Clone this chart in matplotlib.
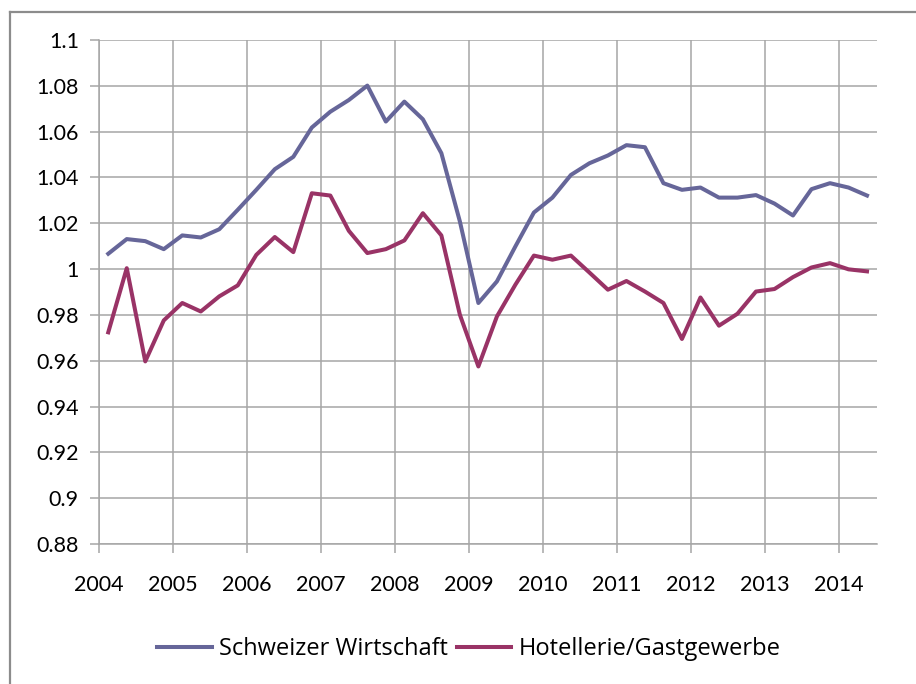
import matplotlib.pyplot as plt
from matplotlib.lines import Line2D
import numpy as np

# DATA - quarterly index values, 2004 Q1 .. 2014 Q2
years = [2004, 2005, 2006, 2007, 2008, 2009, 2010, 2011, 2012, 2013, 2014]
schweiz = [1.0067, 1.0131, 1.0122, 1.0087, 1.0147, 1.0138, 1.0174, 1.0259,
           1.0346, 1.0436, 1.0490, 1.0618, 1.0687, 1.0738, 1.0801, 1.0644,
           1.0731, 1.0654, 1.0506, 1.0208, 0.9852, 0.9946, 1.0099, 1.0247,
           1.0312, 1.0411, 1.0462, 1.0496, 1.0541, 1.0532, 1.0375, 1.0346,
           1.0356, 1.0312, 1.0312, 1.0323, 1.0286, 1.0234, 1.0349, 1.0375,
           1.0356, 1.0321]
hotel = [0.9724, 1.0004, 0.9597, 0.9776, 0.9852, 0.9815, 0.9881, 0.9929,
         1.0062, 1.0140, 1.0074, 1.0331, 1.0321, 1.0167, 1.0070, 1.0087,
         1.0125, 1.0244, 1.0147, 0.9801, 0.9575, 0.9793, 0.9932, 1.0059,
         1.0041, 1.0059, 0.9985, 0.9910, 0.9948, 0.9902, 0.9852, 0.9695,
         0.9876, 0.9753, 0.9805, 0.9902, 0.9913, 0.9965, 1.0007, 1.0026,
         0.9999, 0.9990]
labels = ['Schweizer Wirtschaft', 'Hotellerie/Gastgewerbe']

# mid-quarter positions on a year axis
quarters = years[0] + 0.125 + 0.25 * np.arange(len(schweiz))

plt.rcParams['font.family'] = ['Lato', 'DejaVu Sans']

fig = plt.figure(figsize=(9.16, 6.84), dpi=100)
ax = fig.add_axes([99 / 916, 1 - 544 / 684, 778 / 916, 504 / 684])

ax.plot(quarters, schweiz, color='#666699', lw=2.9, label=labels[0])
ax.plot(quarters, hotel, color='#993366', lw=2.9, label=labels[1])

ax.set_xlim(2004, 2014.51)
ax.set_ylim(0.88, 1.1)
ax.set_xticks(years)
ax.set_xticklabels([str(y) for y in years])
yt = np.round(np.arange(0.88, 1.1001, 0.02), 2)
ax.set_yticks(yt)
ax.set_yticklabels(['{:g}'.format(v) for v in yt])

ax.grid(True, color='#A6A6A6', lw=1.1)
ax.set_axisbelow(True)
for side in ['top', 'right']:
    ax.spines[side].set_visible(False)
for side in ['left', 'bottom']:
    ax.spines[side].set_color('#A6A6A6')
    ax.spines[side].set_linewidth(1.1)
ax.tick_params(axis='both', colors='#A6A6A6', labelcolor='black',
               length=6.5, width=1.1, labelsize=15.5)
ax.tick_params(axis='y', pad=8)
ax.tick_params(axis='x', pad=16)

ax.legend(loc='center', bbox_to_anchor=(469 / 916, 1 - 649 / 684),
          bbox_transform=fig.transFigure, ncol=2, frameon=False,
          prop={'family': ['Open Sans', 'DejaVu Sans'], 'size': 17},
          handlelength=2.3, handletextpad=0.3, columnspacing=0.4)

# outer chart frame (cut off at right and bottom)
fig.add_artist(Line2D([10 / 916, 10 / 916], [0, 1 - 12 / 684],
                      color='#8C8C8C', lw=1.6, transform=fig.transFigure))
fig.add_artist(Line2D([10 / 916, 1], [1 - 12 / 684, 1 - 12 / 684],
                      color='#8C8C8C', lw=1.6, transform=fig.transFigure))

fig.savefig('out.png', dpi=100)
